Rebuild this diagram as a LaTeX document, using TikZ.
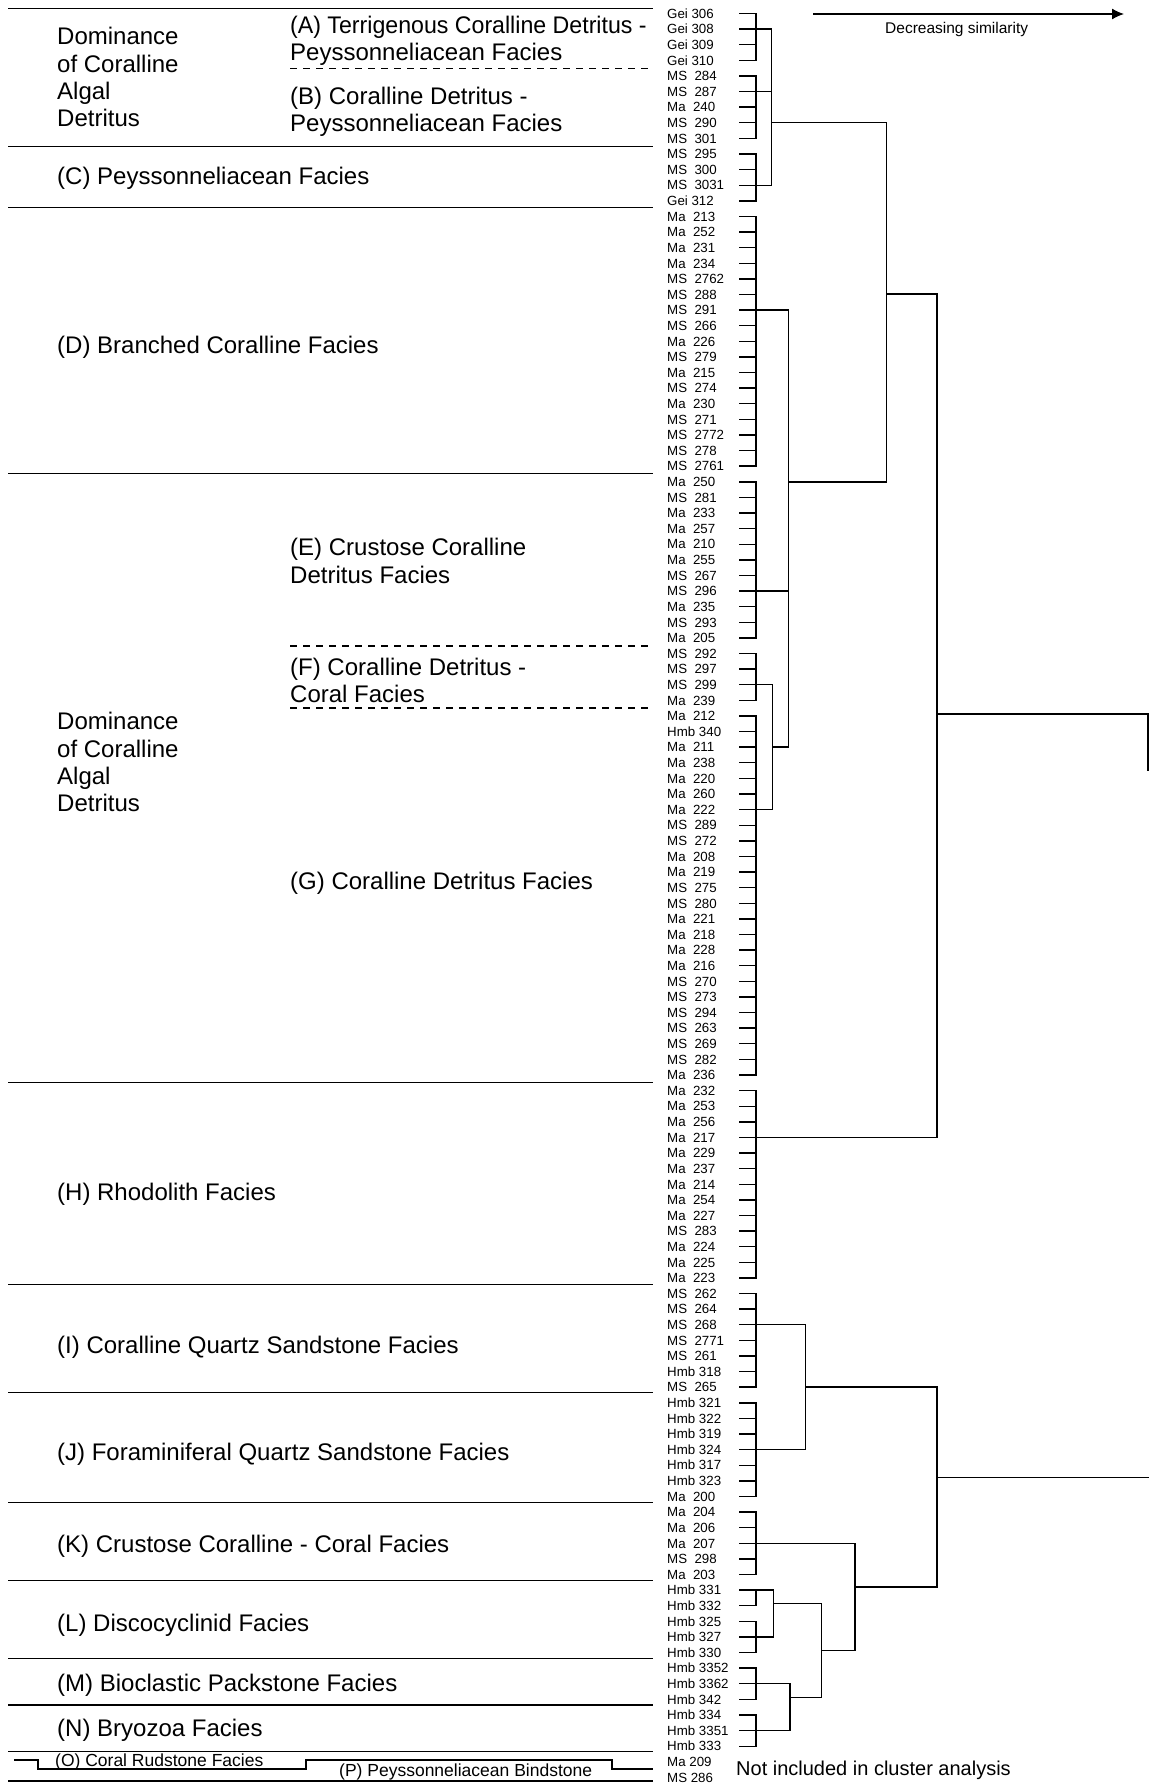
\documentclass[tikz,border=0pt]{standalone}
\usepackage{fontspec}
\setmainfont{Liberation Sans}
\usetikzlibrary{arrows.meta,calc}
\newcommand\smplfnt{\fontsize{13.3}{15}\selectfont}
\newcommand\facfnt{\fontsize{24}{27.3}\selectfont}
\newcommand\btmfnt{\fontsize{17.5}{20}\selectfont}
\newcommand\notefnt{\fontsize{20}{24}\selectfont}
\newcommand\arrfnt{\fontsize{15.5}{18}\selectfont}
\begin{document}
\begin{tikzpicture}[x=1pt,y=-1pt,
  declare function={ry(\n)=13.5+(\n-1)*15.61;},
  smpl/.style={anchor=base west, inner sep=0pt, font=\smplfnt},
  fac/.style={anchor=base west, inner sep=0pt, font=\facfnt},
  btm/.style={anchor=base west, inner sep=0pt, font=\btmfnt},
  sepline/.style={line width=1.5pt},
  dsep/.style={line width=1.2pt, dash pattern=on 7pt off 6pt},
  dend/.style={line width=1.4pt, line cap=rect},
]
\fill[white] (0,0) rectangle (1149,1783);
\useasboundingbox (0,0) rectangle (1149,1783);

% ---------- sample labels ----------
\foreach \n [count=\i] in {Gei 306,Gei 308,Gei 309,Gei 310,MS~~284,MS~~287,Ma~~240,MS~~290,MS~~301,MS~~295,MS~~300,MS~~3031,Gei 312,Ma~~213,Ma~~252,Ma~~231,Ma~~234,MS~~2762,MS~~288,MS~~291,MS~~266,Ma~~226,MS~~279,Ma~~215,MS~~274,Ma~~230,MS~~271,MS~~2772,MS~~278,MS~~2761,Ma~~250,MS~~281,Ma~~233,Ma~~257,Ma~~210,Ma~~255,MS~~267,MS~~296,Ma~~235,MS~~293,Ma~~205,MS~~292,MS~~297,MS~~299,Ma~~239,Ma~~212,Hmb 340,Ma~~211,Ma~~238,Ma~~220,Ma~~260,Ma~~222,MS~~289,MS~~272,Ma~~208,Ma~~219,MS~~275,MS~~280,Ma~~221,Ma~~218,Ma~~228,Ma~~216,MS~~270,MS~~273,MS~~294,MS~~263,MS~~269,MS~~282,Ma~~236,Ma~~232,Ma~~253,Ma~~256,Ma~~217,Ma~~229,Ma~~237,Ma~~214,Ma~~254,Ma~~227,MS~~283,Ma~~224,Ma~~225,Ma~~223,MS~~262,MS~~264,MS~~268,MS~~2771,MS~~261,Hmb 318,MS~~265,Hmb 321,Hmb 322,Hmb 319,Hmb 324,Hmb 317,Hmb 323,Ma~~200,Ma~~204,Ma~~206,Ma~~207,MS~~298,Ma~~203,Hmb 331,Hmb 332,Hmb 325,Hmb 327,Hmb 330,Hmb 3352,Hmb 3362,Hmb 342,Hmb 334,Hmb 3351,Hmb 333,Ma 209,MS 286}
  {\node[smpl] (s\i) at (667,{ry(\i)+4.75}) {\n};}

% ---------- leaf ticks ----------
\foreach \i in {1,...,112}
  {\coordinate (t\i) at (740,{ry(\i)});
   \draw[dend] (t\i) -- ++(16,0);}

% ---------- first-level cluster bars ----------
\foreach \a/\b/\c/\x in {1/4/2/771.7, 5/9/6/771.7, 10/13/12/771.7, 14/30/20/788.3,
  31/41/38/788.3, 42/45/44/772.7, 46/69/52/772.7, 70/82/73/937, 83/89/85/805.7,
  90/96/93/805.7, 97/101/99/855, 102/103/102/773.3, 104/106/105/773.3,
  107/109/108/790, 110/112/111/790}
  {\draw[dend] (756,{ry(\a)}) -- (756,{ry(\b)}) (756,{ry(\c)}) -- (\x,{ry(\c)});}

% ---------- higher levels ----------
\coordinate (abc) at (771.7,{ry(8)});
\coordinate (fg) at (772.7,{ry(48)});
\coordinate (defg) at (788.3,{ry(31)});
\coordinate (ag) at (886.7,294);
\coordinate (ah) at (937,714);
\coordinate (ij) at (805.7,{ry(89)});
\coordinate (l12) at (773.3,1603.3);
\coordinate (mn) at (790,1697.7);
\coordinate (lmn) at (821.7,1650.7);
\coordinate (klmn) at (855,1587);
\coordinate (ip) at (937,1477.3);
\coordinate (rootA) at (1148,714);
\coordinate (rootB) at (1148,1477.3);

\draw[dend] (771.7,{ry(2)}) -- (771.7,{ry(12)});
\draw[dend] (abc) -- (886.7,{ry(8)});
\draw[dend] (772.7,{ry(44)}) -- (772.7,{ry(52)});
\draw[dend] (fg) -- (788.3,{ry(48)});
\draw[dend] (788.3,{ry(20)}) -- (788.3,{ry(48)});
\draw[dend] (defg) -- (886.7,{ry(31)});
\draw[dend] (886.7,{ry(8)}) -- (886.7,{ry(31)});
\draw[dend] (ag) -- (937,294);
\draw[dend] (937,294) -- (937,{ry(73)});
\draw[dend] (ah) -- (rootA);
\draw[dend] (805.7,{ry(85)}) -- (805.7,{ry(93)});
\draw[dend] (ij) -- (937,{ry(89)});
\draw[dend] (773.3,{ry(102)}) -- (773.3,{ry(105)});
\draw[dend] (l12) -- (821.7,1603.3);
\draw[dend] (790,{ry(108)}) -- (790,{ry(111)});
\draw[dend] (mn) -- (821.7,1697.7);
\draw[dend] (821.7,1603.3) -- (821.7,1697.7);
\draw[dend] (lmn) -- (855,1650.7);
\draw[dend] (855,{ry(99)}) -- (855,1650.7);
\draw[dend] (klmn) -- (937,1587);
\draw[dend] (937,{ry(89)}) -- (937,1587);
\draw[dend] (ip) -- (rootB);
\draw[dend] (rootA) -- (1148,770);

% ---------- similarity arrow ----------
\coordinate (arA) at (813,14);
\coordinate (arB) at (1124,14);
\draw[line width=1.3pt, -{Latex[length=12pt,width=11pt]}] (arA) -- (arB);
\node[font=\arrfnt, inner sep=0pt] (sim) at (956.7,29.5) {Decreasing similarity};

% ---------- separators ----------
\foreach \yy in {8.5,146.5,207.5,473.5,1082.5,1284.5,1392.7,1502.7,1580.7,1658.3,1705,1751.7,1781}
  {\draw[sepline] (8,\yy) -- (653,\yy);}
\foreach \yy in {68.5,646,708}
  {\draw[dsep] (290,\yy) -- (648,\yy);}
\draw[sepline] (14,1760) -- (38,1760) -- (38,1769) -- (306,1769) -- (306,1760)
  -- (612,1760) -- (612,1769) -- (653,1769);

% ---------- facies texts ----------
\node[fac] (dom1a) at (57,44.9) {Dominance};
\node[fac] (dom1b) at (57,72.2) {of Coralline};
\node[fac] (dom1c) at (57,99.5) {Algal};
\node[fac] (dom1d) at (57,126.8) {Detritus};
\node[fac] (fA1) at (290,33.5) {\scalebox{0.965}[1]{(A) Terrigenous Coralline Detritus -}};
\node[fac] (fA2) at (290,60.8) {Peyssonneliacean Facies};
\node[fac] (fB1) at (290,104.1) {(B) Coralline Detritus -};
\node[fac] (fB2) at (290,131.4) {Peyssonneliacean Facies};
\node[fac] (fC) at (57,184.8) {(C) Peyssonneliacean Facies};
\node[fac] (fD) at (57,353.2) {(D) Branched Coralline Facies};
\node[fac] (fE1) at (290,555.7) {(E) Crustose Coralline};
\node[fac] (fE2) at (290,583) {Detritus Facies};
\node[fac] (fF1) at (290,675.1) {(F) Coralline Detritus -};
\node[fac] (fF2) at (290,702.5) {Coral Facies};
\node[fac] (dom2a) at (57,729.7) {Dominance};
\node[fac] (dom2b) at (57,757) {of Coralline};
\node[fac] (dom2c) at (57,784.4) {Algal};
\node[fac] (dom2d) at (57,811.7) {Detritus};
\node[fac] (fG) at (290,889) {(G) Coralline Detritus Facies};
\node[fac] (fH) at (57,1200.7) {(H) Rhodolith Facies};
\node[fac] (fI) at (57,1353.1) {(I) Coralline Quartz Sandstone Facies};
\node[fac] (fJ) at (57,1460.1) {(J) Foraminiferal Quartz Sandstone Facies};
\node[fac] (fK) at (57,1552.2) {(K) Crustose Coralline - Coral Facies};
\node[fac] (fL) at (57,1631.9) {(L) Discocyclinid Facies};
\node[fac] (fM) at (57,1691) {(M) Bioclastic Packstone Facies};
\node[fac] (fN) at (57,1736.5) {(N) Bryozoa Facies};
\node[btm] (fO) at (55,1766) {(O) Coral Rudstone Facies};
\node[btm] (fP) at (339,1776.5) {(P) Peyssonneliacean Bindstone};
\node[anchor=base west, inner sep=0pt, font=\notefnt] (note) at (736,1775) {Not included in cluster analysis};
\end{tikzpicture}
\end{document}
